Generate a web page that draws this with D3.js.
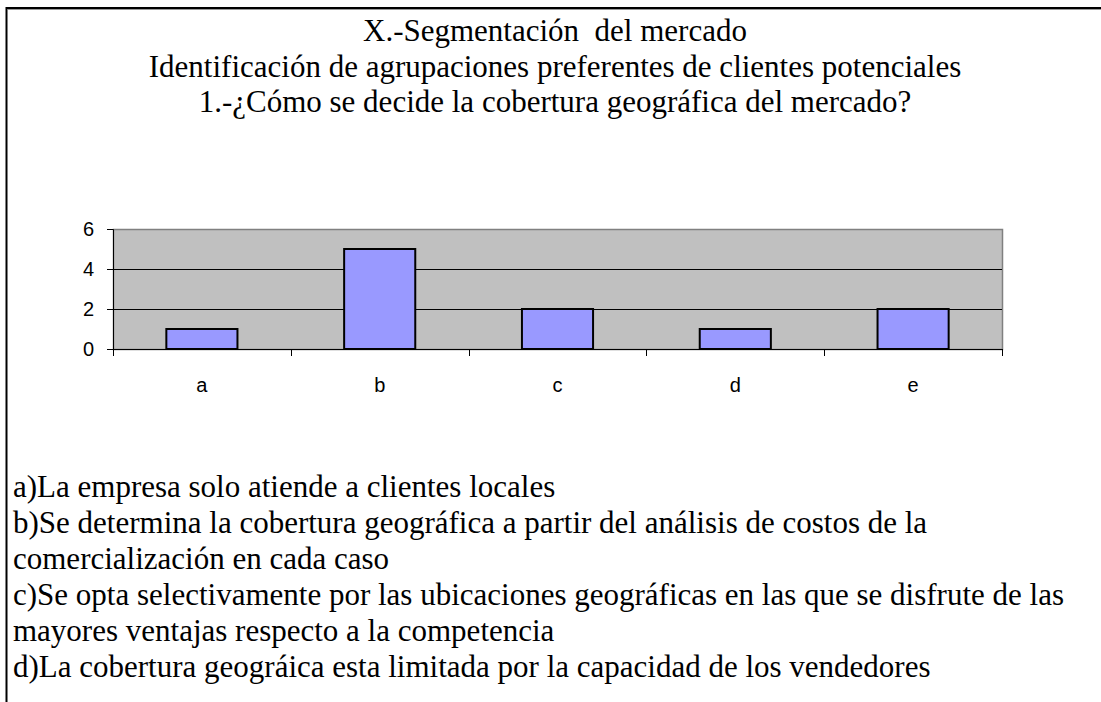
<!DOCTYPE html>
<html>
<head>
<meta charset="utf-8">
<script src="https://cdn.jsdelivr.net/npm/d3@7"></script>
<style>
  body { margin: 0; background: #fff; }
  svg text { white-space: pre; }
</style>
</head>
<body>
<div id="chart"></div>
<script>
// datos
const categories = ["a", "b", "c", "d", "e"];
const values = [1, 5, 2, 1, 2];
const yTicks = [0, 2, 4, 6];
const titleLines = [
  "X.-Segmentación  del mercado",
  "Identificación de agrupaciones preferentes de clientes potenciales",
  "1.-¿Cómo se decide la cobertura geográfica del mercado?"
];
const notes = [
  "a)La empresa solo atiende a clientes locales",
  "b)Se determina la cobertura geográfica a partir del análisis de costos de la",
  "comercialización en cada caso",
  "c)Se opta selectivamente por las ubicaciones geográficas en las que se disfrute de las",
  "mayores ventajas respecto a la competencia",
  "d)La cobertura geográica esta limitada por la capacidad de los vendedores"
];

const W = 1101, H = 702;
const serif = "'Liberation Serif', 'Times New Roman', serif";
const sans = "'Liberation Sans', Arial, sans-serif";

const svg = d3.select("#chart").append("svg")
  .attr("width", W).attr("height", H);

// marco
svg.append("path")
  .attr("d", `M6.5,${H} V8 H${W}`)
  .attr("fill", "none")
  .attr("stroke", "#000")
  .attr("stroke-width", 2);
svg.append("line")
  .attr("x1", 8).attr("x2", W)
  .attr("y1", 9.5).attr("y2", 9.5)
  .attr("stroke", "#999")
  .attr("stroke-width", 1);

// titulo
svg.selectAll(".title")
  .data(titleLines)
  .enter()
  .append("text")
  .attr("class", "title")
  .attr("x", 555)
  .attr("y", (d, i) => 41 + i * 35.5)
  .attr("text-anchor", "middle")
  .style("font-family", serif)
  .style("font-size", "31px")
  .text(d => d);

// area del grafico
const plot = { left: 113, right: 1002, top: 229, bottom: 349 };
const x = d3.scaleBand()
  .domain(categories)
  .range([plot.left, plot.right])
  .paddingInner(0.6)
  .paddingOuter(0.3);
const y = d3.scaleLinear().domain([0, 6]).range([plot.bottom, plot.top]);

svg.append("rect")
  .attr("x", plot.left + 0.5).attr("y", plot.top + 0.5)
  .attr("width", plot.right - plot.left)
  .attr("height", plot.bottom - plot.top)
  .attr("fill", "#c0c0c0")
  .attr("stroke", "#808080")
  .attr("stroke-width", 1.5);

// lineas de cuadricula
svg.selectAll(".grid")
  .data(yTicks.filter(t => t > 0 && t < 6))
  .enter()
  .append("line")
  .attr("x1", plot.left).attr("x2", plot.right)
  .attr("y1", d => Math.round(y(d)) + 0.5)
  .attr("y2", d => Math.round(y(d)) + 0.5)
  .attr("stroke", "#000")
  .attr("stroke-width", 1);

// barras
svg.selectAll(".bar")
  .data(values)
  .enter()
  .append("rect")
  .attr("class", "bar")
  .attr("x", (d, i) => x(categories[i]))
  .attr("width", x.bandwidth())
  .attr("y", d => y(d))
  .attr("height", d => y(0) - y(d))
  .attr("fill", "#9999ff")
  .attr("stroke", "#000")
  .attr("stroke-width", 2);

// eje y
const yAxis = svg.append("g")
  .attr("transform", `translate(${plot.left},0)`)
  .call(d3.axisLeft(y).tickValues(yTicks).tickFormat(d3.format("d")).tickSize(6).tickPadding(13));
yAxis.selectAll("text")
  .style("font-family", sans)
  .style("font-size", "20px")
  .attr("fill", "#000");
yAxis.select(".domain").attr("stroke", "#000");

// eje x
const xAxis = svg.append("g")
  .attr("transform", `translate(0,${plot.bottom})`)
  .call(d3.axisBottom(x).tickSize(0).tickPadding(29));
xAxis.selectAll("text")
  .style("font-family", sans)
  .style("font-size", "20px")
  .attr("fill", "#000");
xAxis.select(".domain").attr("stroke", "#000");

// marcas entre categorias
const step = x.step();
const bounds = d3.range(categories.length + 1).map(i => plot.left + i * step);
xAxis.selectAll(".sep")
  .data(bounds)
  .enter()
  .append("line")
  .attr("x1", d => Math.round(d) + 0.5).attr("x2", d => Math.round(d) + 0.5)
  .attr("y1", 0).attr("y2", 7)
  .attr("stroke", "#000");

// notas
svg.selectAll(".note")
  .data(notes)
  .enter()
  .append("text")
  .attr("class", "note")
  .attr("x", 13)
  .attr("y", (d, i) => 497 + i * 36)
  .style("font-family", serif)
  .style("font-size", "31px")
  .text(d => d);
</script>
</body>
</html>
